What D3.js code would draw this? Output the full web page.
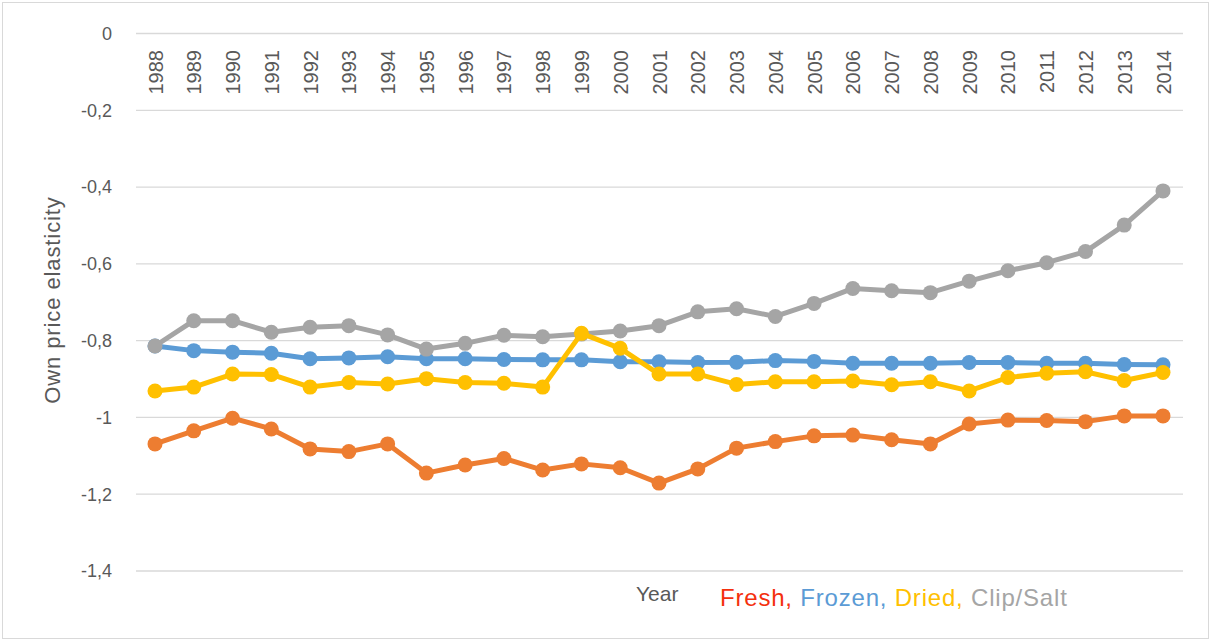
<!DOCTYPE html>
<head>
  <meta charset="utf-8">
  <script src="https://d3js.org/d3.v7.min.js"></script>
  <style>
    body { margin:0; background:#fff; }
    svg { font-family: "Liberation Sans", "Open Sans", sans-serif; }
  </style>
</head>
<body>
<svg width="1212" height="642"></svg>

<script>
  // data
  var years = d3.range(1988, 2015);
  var fresh  = [-1.069,-1.035,-1.002,-1.030,-1.082,-1.089,-1.069,-1.145,-1.124,-1.107,-1.137,-1.121,-1.131,-1.171,-1.134,-1.080,-1.063,-1.048,-1.046,-1.058,-1.069,-1.017,-1.007,-1.008,-1.011,-0.996,-0.996];
  var frozen = [-0.814,-0.826,-0.830,-0.833,-0.847,-0.845,-0.842,-0.847,-0.847,-0.849,-0.850,-0.850,-0.855,-0.855,-0.857,-0.856,-0.852,-0.854,-0.859,-0.859,-0.859,-0.857,-0.857,-0.859,-0.859,-0.862,-0.863];
  var dried  = [-0.931,-0.921,-0.887,-0.888,-0.921,-0.909,-0.913,-0.899,-0.909,-0.911,-0.921,-0.781,-0.820,-0.887,-0.887,-0.914,-0.907,-0.907,-0.905,-0.915,-0.907,-0.931,-0.896,-0.885,-0.881,-0.904,-0.883];
  var clip   = [-0.814,-0.748,-0.748,-0.778,-0.765,-0.761,-0.785,-0.822,-0.807,-0.786,-0.790,-0.783,-0.775,-0.761,-0.725,-0.717,-0.737,-0.703,-0.664,-0.670,-0.675,-0.645,-0.618,-0.597,-0.568,-0.499,-0.410];
  var yTicks = [0, -0.2, -0.4, -0.6, -0.8, -1, -1.2, -1.4];

  var series = [
    {name: "Fresh",     values: fresh,  color: "#ED7D31"},
    {name: "Frozen",    values: frozen, color: "#5B9BD5"},
    {name: "Clip/Salt", values: clip,   color: "#A5A5A5"},
    {name: "Dried",     values: dried,  color: "#FFC000"}
  ];
  var legend = [
    {text: "Fresh, ",   color: "#F4300E"},
    {text: "Frozen, ",  color: "#5B9BD5"},
    {text: "Dried, ",   color: "#FFC000"},
    {text: "Clip/Salt", color: "#A5A5A5"}
  ];

  var svg = d3.select("svg");

  svg.append("rect")
    .attr("x", 2.5).attr("y", 2.5)
    .attr("width", 1206).attr("height", 636)
    .attr("fill", "#fff").attr("stroke", "#d9d9d9");

  var x = d3.scalePoint().domain(years).range([155, 1163]);
  var y = d3.scaleLinear().domain([-1.4, 0]).range([571, 33.5]);

  // comma decimals, plain hyphen for minus
  function fmt(d) {
    if (d === 0) return "0";
    var s = String(Math.round(d * 10) / 10);
    return s.replace(".", ",");
  }

  // gridlines
  svg.append("g").selectAll("line")
    .data(yTicks).enter().append("line")
    .attr("x1", 136).attr("x2", 1183)
    .attr("y1", d => y(d)).attr("y2", d => y(d))
    .attr("stroke", "#d9d9d9").attr("stroke-width", 1.3);

  // y tick labels
  svg.append("g").selectAll("text")
    .data(yTicks).enter().append("text")
    .attr("x", 112).attr("y", d => y(d))
    .attr("dy", "0.35em")
    .attr("text-anchor", "end")
    .attr("font-size", 18)
    .attr("fill", "#595959")
    .text(fmt);

  // year labels, rotated, hanging below the zero line
  svg.append("g").selectAll("text")
    .data(years).enter().append("text")
    .attr("transform", d => "translate(" + (x(d) + 7.5) + "," + 50 + ") rotate(-90)")
    .attr("text-anchor", "end")
    .attr("font-size", 20)
    .attr("fill", "#595959")
    .text(d => d);

  var line = d3.line()
    .x((d, i) => x(years[i]))
    .y(d => y(d));

  var g = svg.append("g").selectAll("g")
    .data(series).enter().append("g");

  g.append("path")
    .attr("d", d => line(d.values))
    .attr("fill", "none")
    .attr("stroke", d => d.color)
    .attr("stroke-width", 5)
    .attr("stroke-linejoin", "round");

  g.each(function(s) {
    d3.select(this).selectAll("circle")
      .data(s.values).enter().append("circle")
      .attr("cx", (d, i) => x(years[i]))
      .attr("cy", d => y(d))
      .attr("r", 7.5)
      .attr("fill", s.color);
  });

  // axis titles
  svg.append("text")
    .attr("transform", "translate(60,300) rotate(-90)")
    .attr("text-anchor", "middle")
    .attr("font-size", 22)
    .attr("letter-spacing", 0.9)
    .attr("fill", "#595959")
    .text("Own price elasticity");

  svg.append("text")
    .attr("x", 636).attr("y", 601)
    .attr("font-size", 21)
    .attr("fill", "#595959")
    .text("Year");

  var lt = svg.append("text")
    .attr("x", 720).attr("y", 606)
    .attr("font-size", 24)
    .attr("letter-spacing", 0.8);
  lt.selectAll("tspan")
    .data(legend).enter().append("tspan")
    .attr("fill", d => d.color)
    .attr("xml:space", "preserve")
    .text(d => d.text);
</script>
</body>
